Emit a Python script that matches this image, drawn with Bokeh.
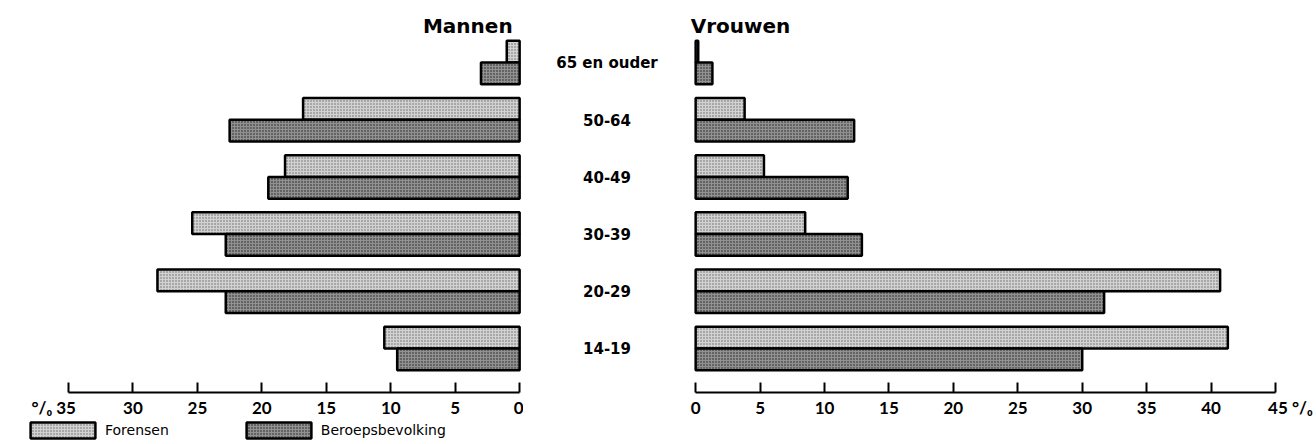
from bokeh.plotting import figure
from bokeh.layouts import row, column
from bokeh.models import (Range1d, FactorRange, ColumnDataSource, Label, Legend,
                          LegendItem, FixedTicker)
from bokeh.transform import dodge
from bokeh.embed import file_html
from bokeh.resources import INLINE
from bokeh.core.properties import value

# ---------------- data ----------------
categories = ["65 en ouder", "50-64", "40-49", "30-39", "20-29", "14-19"]
series_names = ["Forensen", "Beroepsbevolking"]
men_forensen = [1.0, 16.8, 18.2, 25.4, 28.1, 10.5]
men_beroeps = [3.0, 22.5, 19.5, 22.8, 22.8, 9.5]
women_forensen = [0.2, 3.8, 5.3, 8.5, 40.7, 41.3]
women_beroeps = [1.3, 12.3, 11.8, 12.9, 31.7, 30.0]
men_ticks = [0, 5, 10, 15, 20, 25, 30, 35]
women_ticks = [0, 5, 10, 15, 20, 25, 30, 35, 40, 45]
panel_titles = ["Mannen", "Vrouwen"]
unit_label = "°/₀"

TICK_FONT = "Lato"
FONT = "DejaVu Sans"
H = 420
TOP = 18
BOTTOM = 26
PAD = "\u2007\u2007\u2007"

src = ColumnDataSource(dict(cat=categories, mf=men_forensen, mb=men_beroeps,
                            wf=women_forensen, wb=women_beroeps))
yr = FactorRange(factors=categories[::-1], range_padding=0.27,
                 range_padding_units="absolute")

F_STYLE = dict(fill_color="#d2d2d2", hatch_pattern="dot", hatch_color="#666666",
               hatch_scale=3, hatch_weight=1, line_color="black", line_width=2.5)
B_STYLE = dict(fill_color="#919191", hatch_pattern="dot", hatch_color="#1e1e1e",
               hatch_scale=3, hatch_weight=1, line_color="black", line_width=2.5)


def base(width, xr, left=0, right=0):
    p = figure(width=width, height=H, x_range=xr, y_range=yr,
               output_backend="svg", toolbar_location=None,
               min_border_left=left, min_border_right=right,
               min_border_top=TOP, min_border_bottom=BOTTOM,
               y_axis_location=None)
    p.xgrid.visible = False
    p.ygrid.visible = False
    p.outline_line_color = None
    p.background_fill_color = "white"
    return p


def style_axis(p, ticks, overrides):
    ax = p.xaxis[0]
    ax.ticker = FixedTicker(ticks=ticks)
    ax.bounds = (ticks[0], ticks[-1])
    ax.major_label_overrides = overrides
    ax.major_tick_in = 10
    ax.major_tick_out = 0
    ax.minor_tick_line_color = None
    ax.axis_line_width = 2
    ax.major_tick_line_width = 2
    ax.major_label_standoff = 4
    ax.major_label_text_font = TICK_FONT
    ax.major_label_text_font_size = "17px"
    ax.major_label_text_font_style = "bold"
    ax.major_label_text_color = "black"


# ---------------- men ----------------
p_men = base(523, Range1d(35, -0.3), left=68)
p_men.hbar(y=dodge("cat", 0.19, range=yr), left=0, right="mf",
           height=0.38, source=src, **F_STYLE)
p_men.hbar(y=dodge("cat", -0.19, range=yr), left=0, right="mb",
           height=0.38, source=src, **B_STYLE)
style_axis(p_men, men_ticks,
           {men_ticks[-1]: unit_label + " " + str(men_ticks[-1]) + PAD})
p_men.add_layout(Label(x=0, y=367, y_units="screen", x_offset=-7,
                       text=panel_titles[0], text_align="right",
                       text_baseline="middle", text_font=FONT,
                       text_font_size="20px", text_font_style="bold",
                       text_color="black"))

# ---------------- middle (age labels) ----------------
p_mid = base(167, Range1d(0, 1))
p_mid.xaxis.visible = False
p_mid.text(x=0.5, y="cat", text="cat", source=src, text_align="center",
           text_baseline="middle", text_font=value(FONT),
           text_font_size="15px", text_font_style="bold", text_color="black")

# ---------------- women ----------------
p_wom = base(626, Range1d(-0.4, 48.18))
p_wom.hbar(y=dodge("cat", 0.19, range=yr), left=0, right="wf",
           height=0.38, source=src, **F_STYLE)
p_wom.hbar(y=dodge("cat", -0.19, range=yr), left=0, right="wb",
           height=0.38, source=src, **B_STYLE)
style_axis(p_wom, women_ticks,
           {women_ticks[-1]: PAD + str(women_ticks[-1]) + " " + unit_label})
p_wom.add_layout(Label(x=0, y=367, y_units="screen", x_offset=-5,
                       text=panel_titles[1], text_align="left",
                       text_baseline="middle", text_font=FONT,
                       text_font_size="20px", text_font_style="bold",
                       text_color="black"))

# ---------------- legend strip ----------------
p_leg = figure(width=1316, height=20, x_range=Range1d(0, 1), y_range=yr,
               output_backend="svg", toolbar_location=None, min_border=0,
               x_axis_location=None, y_axis_location=None)
p_leg.xgrid.visible = False
p_leg.ygrid.visible = False
p_leg.outline_line_color = None
lf = p_leg.hbar(y="cat", right="mf", height=0.38, source=src, visible=False,
                **F_STYLE)
lb = p_leg.hbar(y="cat", right="mb", height=0.38, source=src, visible=False,
                **B_STYLE)
legend = Legend(items=[LegendItem(label=series_names[0], renderers=[lf], index=0),
                       LegendItem(label=series_names[1], renderers=[lb], index=0)],
                location=(22, 0), orientation="horizontal",
                glyph_width=81, glyph_height=20, label_standoff=2,
                spacing=69, padding=0, margin=0, border_line_color=None,
                background_fill_alpha=0, label_text_font=FONT,
                label_text_font_size="14px", label_text_color="black",
                inactive_fill_alpha=0)
p_leg.add_layout(legend)

layout = column(row(p_men, p_mid, p_wom), p_leg)
open("out.html", "w").write(file_html(layout, INLINE))
